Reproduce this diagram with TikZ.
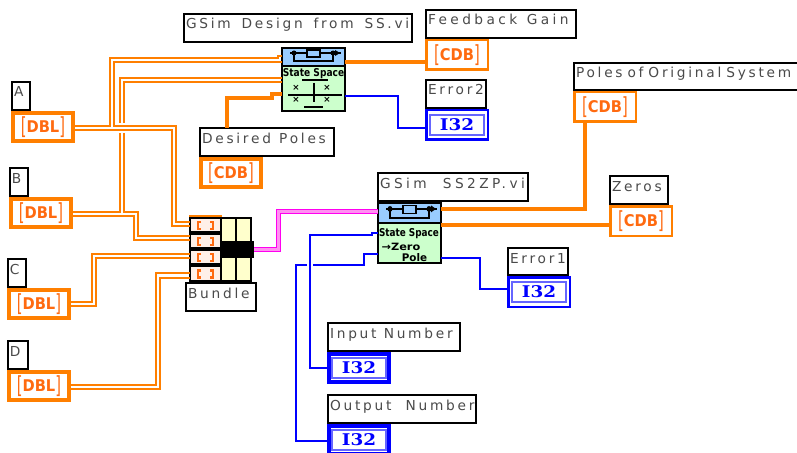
\documentclass[tikz,border=0pt]{standalone}
\usepackage{fontspec}
\usepackage{graphicx}
\setmainfont{DejaVu Sans}
\newfontfamily\labfont[LetterSpace=20]{DejaVu Sans}
\newfontfamily\labfontw[LetterSpace=25]{DejaVu Sans}
\newfontfamily\ifont{DejaVu Serif}
\definecolor{lvorange}{HTML}{FF7F00}
\definecolor{lvtext}{HTML}{FF6A10}
\definecolor{lvblue}{HTML}{0000FF}
\definecolor{vitop}{HTML}{99CCFF}
\definecolor{vigreen}{HTML}{CCFFCC}
\definecolor{bunyel}{HTML}{FFFFCC}
\definecolor{bunrow}{HTML}{FFF0E8}
\definecolor{lvpink}{HTML}{FF00F0}
\definecolor{lvpinkin}{HTML}{FF90F0}
\definecolor{labgray}{HTML}{4A4A4A}
\tikzset{
  x=0.75pt,y=-0.75pt,
  wirethin/.style={draw=lvorange,line width=1.5pt,line join=miter},
  wirethick/.style={draw=lvorange,line width=3pt,line join=miter},
  bwire/.style={draw=lvblue,line width=1.5pt,line join=miter},
  labelbox/.style={draw=black,line width=1.5pt,fill=white,anchor=north west,outer sep=0pt,inner xsep=1.5pt,inner ysep=0pt,align=left,font=\labfont\fontsize{10.3pt}{12pt}\selectfont,text=labgray},
  termbox/.style={fill=white,anchor=north west,outer sep=0pt,inner sep=0pt},
  termtext/.style={text=lvtext,inner sep=0pt,font=\bfseries\fontsize{11pt}{12pt}\selectfont},
  ibox/.style={draw=lvblue!60,line width=1.4pt,fill=white,inner sep=0pt,minimum width=40.5pt,minimum height=14.5pt,text=lvblue,font=\ifont\bfseries\fontsize{11.5pt}{12pt}\selectfont},
  vibox/.style={draw=black,line width=1.5pt,fill=vigreen,anchor=north west,outer sep=0pt,inner sep=0pt},
  vitext/.style={inner sep=0pt,text=black,font=\bfseries},
  burow/.style={draw=black,line width=1.5pt,fill=bunrow,anchor=north west,outer sep=0pt,inner sep=0pt,minimum width=23.25pt},
  bucol/.style={draw=black,line width=1.5pt,fill=bunyel,anchor=north west,outer sep=0pt,inner sep=0pt},
  brk/.style={draw=lvtext,line width=2pt},
}
% [word space] name x0 y0 x1 y1 text
\newcommand\labbox[7][6]{%
  \pgfmathsetmacro\lvw{(#5-#3-2)*0.75-3}%
  \pgfmathsetmacro\lvh{(#6-#4-2)*0.75-11.25}%
  \node[labelbox,text width=\lvw pt,text height=11.25pt,text depth=\lvh pt] (#2) at (#3+1,#4+1) {\mbox{\spaceskip=#1pt\relax #7}};}
% name x0 y0 borderpx colour
\newcommand\termnode[5]{%
  \pgfmathsetmacro\lvl{#4*0.75}%
  \pgfmathsetmacro\lvw{(64-#4)*0.75}%
  \pgfmathsetmacro\lvh{(32-#4)*0.75}%
  \node[termbox,draw=#5,line width=\lvl pt,minimum width=\lvw pt,minimum height=\lvh pt] (#1) at (#2+#4/2,#3+#4/2) {};}
\newcommand\numterm[5]{%
  \termnode{#1}{#2}{#3}{#4}{lvorange}%
  \node[termtext] (#1t) at (#1.center) {\raisebox{-1.1pt}{\scalebox{1}[1.6]{\mdseries[}}\scalebox{1}[1.1]{#5}\raisebox{-1.1pt}{\scalebox{1}[1.6]{\mdseries]}}};}
\newcommand\intterm[4]{%
  \termnode{#1}{#2}{#3}{#4}{lvblue}%
  \node[ibox] (#1t) at (#1.center) {\scalebox{1.2}[1.05]{I32}};}
\newcommand\vitopicon[3]{%
  \begin{scope}[shift={(#1,#2)},yscale=#3,line width=1.1pt]
    \draw (9,6) -- (26,6) (39,6) -- (60,6);
    \draw[fill=vitop] (26,3) rectangle (39,10);
    \draw (13,6) -- (13,14) -- (52,14) -- (52,6);
    \fill (13,6) circle (2.5);
    \fill (52,6) circle (2.5);
    \fill (54,3) -- (59,6) -- (54,9) -- cycle;
  \end{scope}}
\begin{document}
\begin{tikzpicture}
\useasboundingbox (0,0) rectangle (797,453);
\fill[white] (0,0) rectangle (797,453);
% ---- labels and terminals
\labbox{la}{11}{81}{31}{111}{A}
\numterm{ta}{11}{111}{4}{DBL}
\labbox{lb}{9}{167}{29}{197}{B}
\numterm{tb}{9}{197}{4}{DBL}
\labbox{lc}{7}{258}{27}{288}{C}
\numterm{tc}{7}{288}{4}{DBL}
\labbox{ld}{7}{340}{29}{370}{D}
\numterm{td}{7}{370}{4}{DBL}
\labbox[6.2]{ldp}{199}{127}{335}{157}{Desired Poles}
\numterm{tdp}{199}{157}{4}{CDB}
\labbox[8.1]{lgd}{183}{13}{413}{43}{GSim Design from SS.vi}
\labbox[7]{lfb}{425}{9}{577}{39}{{\labfontw Feedback Gain}}
\numterm{tfb}{425}{39}{2.5}{CDB}
\labbox{le2}{425}{79}{487}{109}{Error2}
\intterm{te2}{425}{109}{2.5}
\labbox[3.7]{lpo}{573}{62}{810}{91}{Poles of Original System}
\numterm{tpo}{573}{91}{2.5}{CDB}
\labbox{lze}{609}{175}{669}{205}{Zeros}
\numterm{tze}{609}{205}{2.5}{CDB}
\labbox[12]{lgz}{377}{172}{529}{202}{{\labfontw GSim SS2ZP.vi}}
\labbox{le1}{507}{247}{569}{276}{Error1}
\intterm{te1}{507}{276}{2.5}
\labbox[5.4]{lin}{327}{322}{461}{352}{Input Number}
\intterm{tin}{327}{352}{4}
\labbox[10.6]{lou}{327}{394}{477}{424}{Output Number}
\intterm{tou}{327}{424}{4}
% ---- sub VI 1
\node[vibox,minimum width=47.25pt,minimum height=47.25pt] (vione) at (282,48) {};
\fill[vitop] (282,48) rectangle (345,65.5);
\draw[black,line width=1.5pt] (282,66) -- (345,66);
\vitopicon{281}{47}{1}
\node[vitext] (vionet) at (313.5,74) {\resizebox{46pt}{6pt}{State Space}};
\draw[line width=1.1pt] (288,95) -- (342,95) (314,83) -- (314,102) (302,80) -- (328,80) (304,107) -- (323,107);
\node[vitext,font=\bfseries\fontsize{6.5pt}{7pt}\selectfont] (xa) at (296,88) {×};
\node[vitext,font=\bfseries\fontsize{6.5pt}{7pt}\selectfont] (xb) at (327,88) {×};
\node[vitext,font=\bfseries\fontsize{6.5pt}{7pt}\selectfont] (xc) at (296,100) {×};
\node[vitext,font=\bfseries\fontsize{6.5pt}{7pt}\selectfont] (xd) at (327,100) {×};
\draw[black,line width=1.5pt] (282,48) rectangle (345,111);
% ---- sub VI 2
\node[vibox,minimum width=47.25pt,minimum height=45pt] (vitwo) at (378,203) {};
\fill[vitop] (378,203) rectangle (441,222.5);
\draw[black,line width=1.5pt] (378,223) -- (441,223);
\vitopicon{377}{202}{1.15}
\node[vitext] (vitwoa) at (409,234) {\resizebox{45pt}{6pt}{State Space}};
\node[vitext] (vitwob) at (401,246.5) {\resizebox{29pt}{5.5pt}{→Zero}};
\node[vitext] (vitwoc) at (414.5,258) {\resizebox{19pt}{6pt}{Pole}};
\draw[black,line width=1.5pt] (378,203) rectangle (441,263);
% ---- bundle
\node[burow,minimum height=10.5pt] (ba) at (190,218) {};
\node[burow,minimum height=10.5pt] (bb) at (190,234) {};
\node[burow,minimum height=10.5pt] (bc) at (190,250) {};
\node[burow,minimum height=11.25pt] (bd) at (190,266) {};
\node[bucol,minimum width=11.25pt,minimum height=47.25pt] (bl) at (221,218) {};
\node[bucol,minimum width=11.25pt,minimum height=47.25pt] (br) at (236,218) {};
\draw[lvorange,line width=0.8pt] (189,216) -- (222,216);
\foreach \yy in {225.5,241.5,257.5,274}{
  \draw[brk] (201,\yy-3.5) -- (198,\yy-3.5) -- (198,\yy+3.5) -- (201,\yy+3.5);
  \draw[brk] (210,\yy-3.5) -- (213,\yy-3.5) -- (213,\yy+3.5) -- (210,\yy+3.5);
}
\node[fill=black,anchor=north west,inner sep=0pt,outer sep=0pt,minimum width=25.5pt,minimum height=13pt] (bk) at (220,241) {};
\labbox{lbu}{185}{282}{257}{312}{Bundle}
% ---- wires A
\draw[wirethin] (ta.east |- 0,126) -- (110,126) -- (110,58) -- (278,58) -- (278,56) -- (vione.west |- 0,56);
\draw[wirethin] (vione.west |- 0,62) -- (114,62) -- (114,126) -- (176,126) -- (176,222) -- (ba.west |- 0,222);
\draw[wirethin] (ta.east |- 0,130) -- (172,130) -- (172,226) -- (ba.west |- 0,226);
% ---- wires B
\draw[wirethin] (tb.east |- 0,212) -- (120,212) -- (120,133);
\draw[wirethin] (120,123) -- (120,78) -- (vione.west |- 0,78);
\draw[wirethin] (vione.west |- 0,82) -- (124,82) -- (124,123);
\draw[wirethin] (124,133) -- (124,212) -- (138,212) -- (138,236) -- (bb.west |- 0,236);
\draw[wirethin] (tb.east |- 0,216) -- (134,216) -- (134,240) -- (bb.west |- 0,240);
% ---- wires C, D
\draw[wirethin] (tc.east |- 0,302) -- (92,302) -- (92,254) -- (bc.west |- 0,254);
\draw[wirethin] (tc.east |- 0,306) -- (96,306) -- (96,258) -- (bc.west |- 0,258);
\draw[wirethin] (td.east |- 0,385) -- (156,385) -- (156,273) -- (bd.west |- 0,273);
\draw[wirethin] (td.east |- 0,389) -- (160,389) -- (160,278) -- (bd.west |- 0,278);
% ---- thick wires
\draw[wirethick] (ldp.north -| 227,0) -- (227,98) -- (272,98) -- (272,94) -- (vione.west |- 0,94);
\draw[wirethick] (vione.east |- 0,62) -- (tfb.west |- 0,62);
\draw[wirethick] (vitwo.east |- 0,209) -- (585,209) -- (tpo.south -| 585,0);
\draw[wirethick] (vitwo.east |- 0,225) -- (tze.west |- 0,225);
% ---- blue wires
\draw[bwire] (vione.east |- 0,96) -- (398,96) -- (398,128) -- (te2.west |- 0,128);
\draw[bwire] (vitwo.east |- 0,258) -- (480,258) -- (480,289) -- (te1.west |- 0,289);
\draw[bwire] (vitwo.west |- 0,233) -- (372,233) -- (372,235) -- (310,235) -- (310,368) -- (tin.west |- 0,368);
\draw[bwire] (vitwo.west |- 0,254) -- (364,254) -- (364,265) -- (313,265);
\draw[bwire] (307,265) -- (296,265) -- (296,441) -- (tou.west |- 0,441);
% ---- pink cluster wire
\draw[draw=lvpink,line width=3.75pt] (bk.east |- 0,249.5) -- (278.5,249.5) -- (278.5,211.5) -- (vitwo.west |- 0,211.5);
\draw[draw=lvpinkin,line width=2.25pt] (bk.east |- 0,249.5) -- (278.5,249.5) -- (278.5,211.5) -- (vitwo.west |- 0,211.5);
\end{tikzpicture}
\end{document}
